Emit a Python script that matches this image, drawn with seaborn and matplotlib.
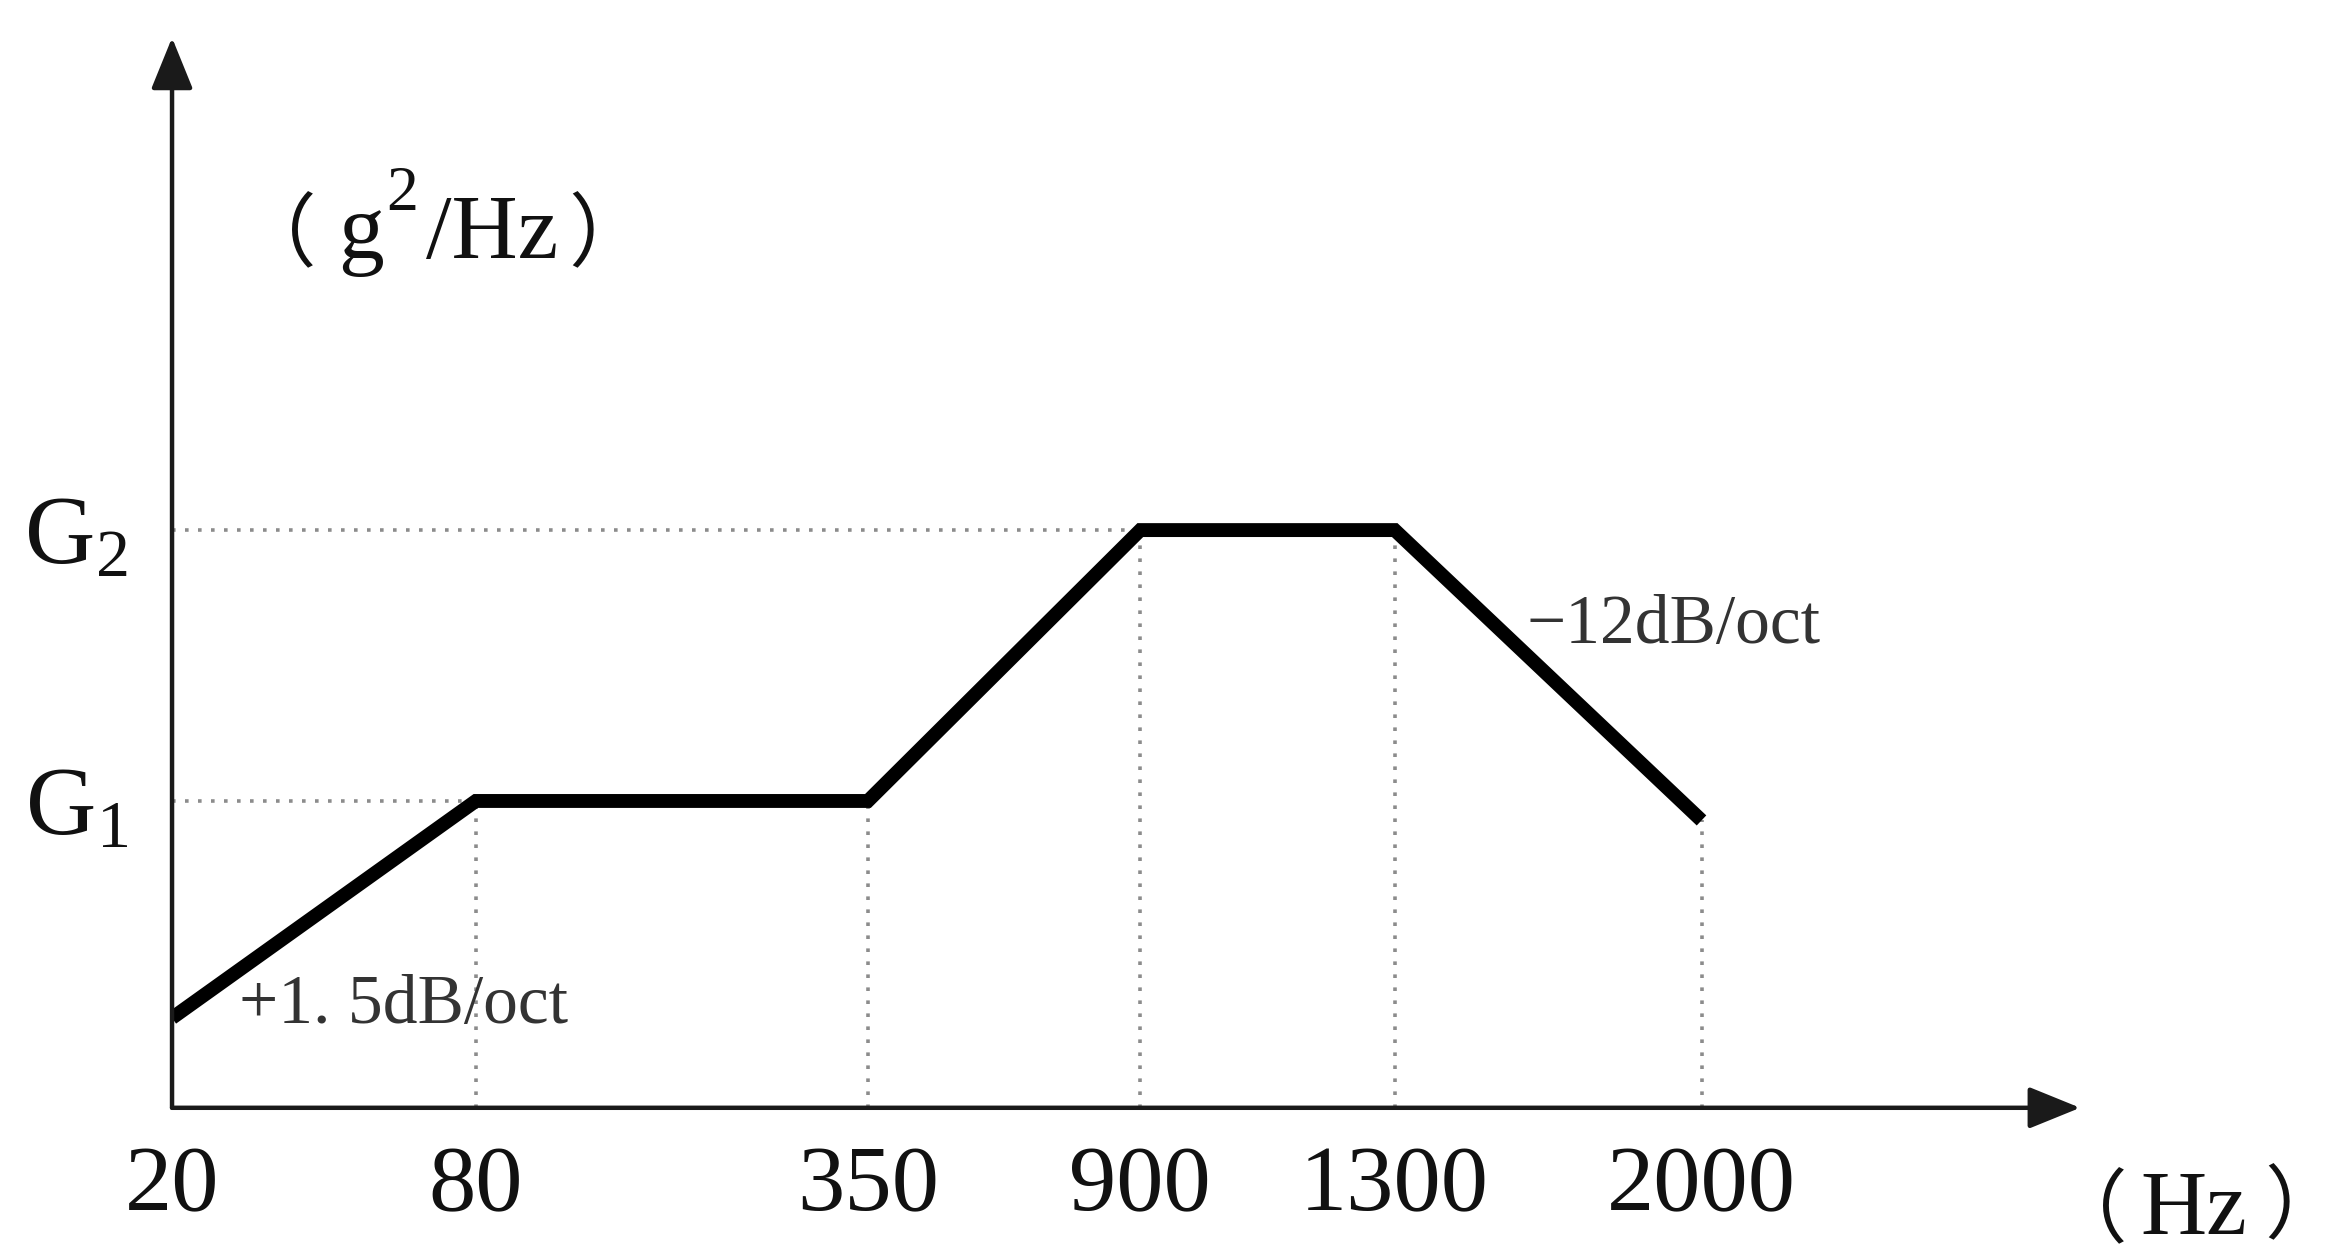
import matplotlib
matplotlib.use("Agg")
import matplotlib.pyplot as plt
import seaborn as sns

# Schematic vibration spectrum: breakpoint frequencies and PSD levels
freq_labels = ["20", "80", "350", "900", "1300", "2000"]
band_pos = [0.0, 2.03, 4.65, 6.47, 8.17, 10.22]      # schematic (not to scale) x positions
psd_level = [0.60, 2.05, 2.05, 3.86, 3.86, 1.92]     # schematic PSD levels
level_names = [r"G$_1$", r"G$_2$"]
level_values = [2.05, 3.86]
level_ends = [2.03, 6.47]                             # where each dotted level guide stops
slope_notes = ["+1. 5dB/oct", "\u221212dB/oct"]

sns.set_theme(style="white")
plt.rcParams["font.family"] = ["Liberation Serif", "Noto Sans CJK SC", "DejaVu Sans"]
plt.rcParams["mathtext.fontset"] = "custom"
plt.rcParams["mathtext.rm"] = "Liberation Serif"
plt.rcParams["mathtext.it"] = "Liberation Serif"

CJK = ["Noto Sans CJK SC", "DejaVu Sans"]
INK = "#111111"

fig = plt.figure(figsize=(23.47, 12.56), dpi=100)
ax = fig.add_axes([0.0733, 0.118, 0.813, 0.852])

# guide lines
dots = (0, (1, 2.6))
ax.vlines(band_pos[1:], 0, psd_level[1:], colors="#8c8c8c", linestyles=dots, lw=2.6)
ax.hlines(level_values, 0, level_ends, colors="#8c8c8c", linestyles=dots, lw=2.6)

# spectrum profile
sns.lineplot(x=band_pos, y=psd_level, ax=ax, color="black", lw=10,
             estimator=None, sort=False, solid_joinstyle="miter", solid_capstyle="butt")

ax.set_xlim(0, 12.75)
ax.set_ylim(0, 7.15)
for s in ax.spines.values():
    s.set_visible(False)

# axes with arrow heads
arrow = dict(arrowstyle="-|>,head_length=3.2,head_width=1.3", mutation_scale=10,
             lw=3.2, color="#1a1a1a", shrinkA=0, shrinkB=0)
ax.annotate("", xy=(1, 0), xytext=(0, 0), xycoords="axes fraction", arrowprops=arrow)
ax.annotate("", xy=(0, 1), xytext=(0, 0), xycoords="axes fraction", arrowprops=arrow)

ax.set_xticks(band_pos, freq_labels)
ax.set_yticks(level_values, level_names)
ax.tick_params(axis="x", length=0, pad=27, labelsize=68, labelcolor=INK)
ax.tick_params(axis="y", length=0, pad=32, labelsize=70, labelcolor=INK)

ax.text(0.45, 0.68, slope_notes[0], fontsize=50, color="#333333", va="center", ha="left")
ax.text(9.05, 3.22, slope_notes[1], fontsize=50, color="#333333", va="center", ha="left")

# y unit (g²/Hz), built from pieces so the full-width brackets keep their font
ax.text(0.43, 5.66, "\uff08", fontsize=58, family=CJK, color=INK, va="baseline")
ax.text(1.11, 5.68, "g", fontsize=66, color=INK, va="baseline")
ax.text(1.43, 6.0, "2", fontsize=46, color=INK, va="baseline")
ax.text(1.70, 5.68, "/Hz", fontsize=66, color=INK, va="baseline")
ax.text(2.65, 5.66, "\uff09", fontsize=58, family=CJK, color=INK, va="baseline")

# x unit (Hz)
ax.text(12.53, -0.86, "\uff08", fontsize=58, family=CJK, color=INK, va="baseline", clip_on=False)
ax.text(13.15, -0.84, "Hz", fontsize=66, color=INK, va="baseline", clip_on=False)
fig.text(0.999, 0.0186, "\uff09", fontsize=58, family=CJK, color=INK, va="baseline", ha="right")

fig.savefig("out.png", dpi=100, facecolor="white")
